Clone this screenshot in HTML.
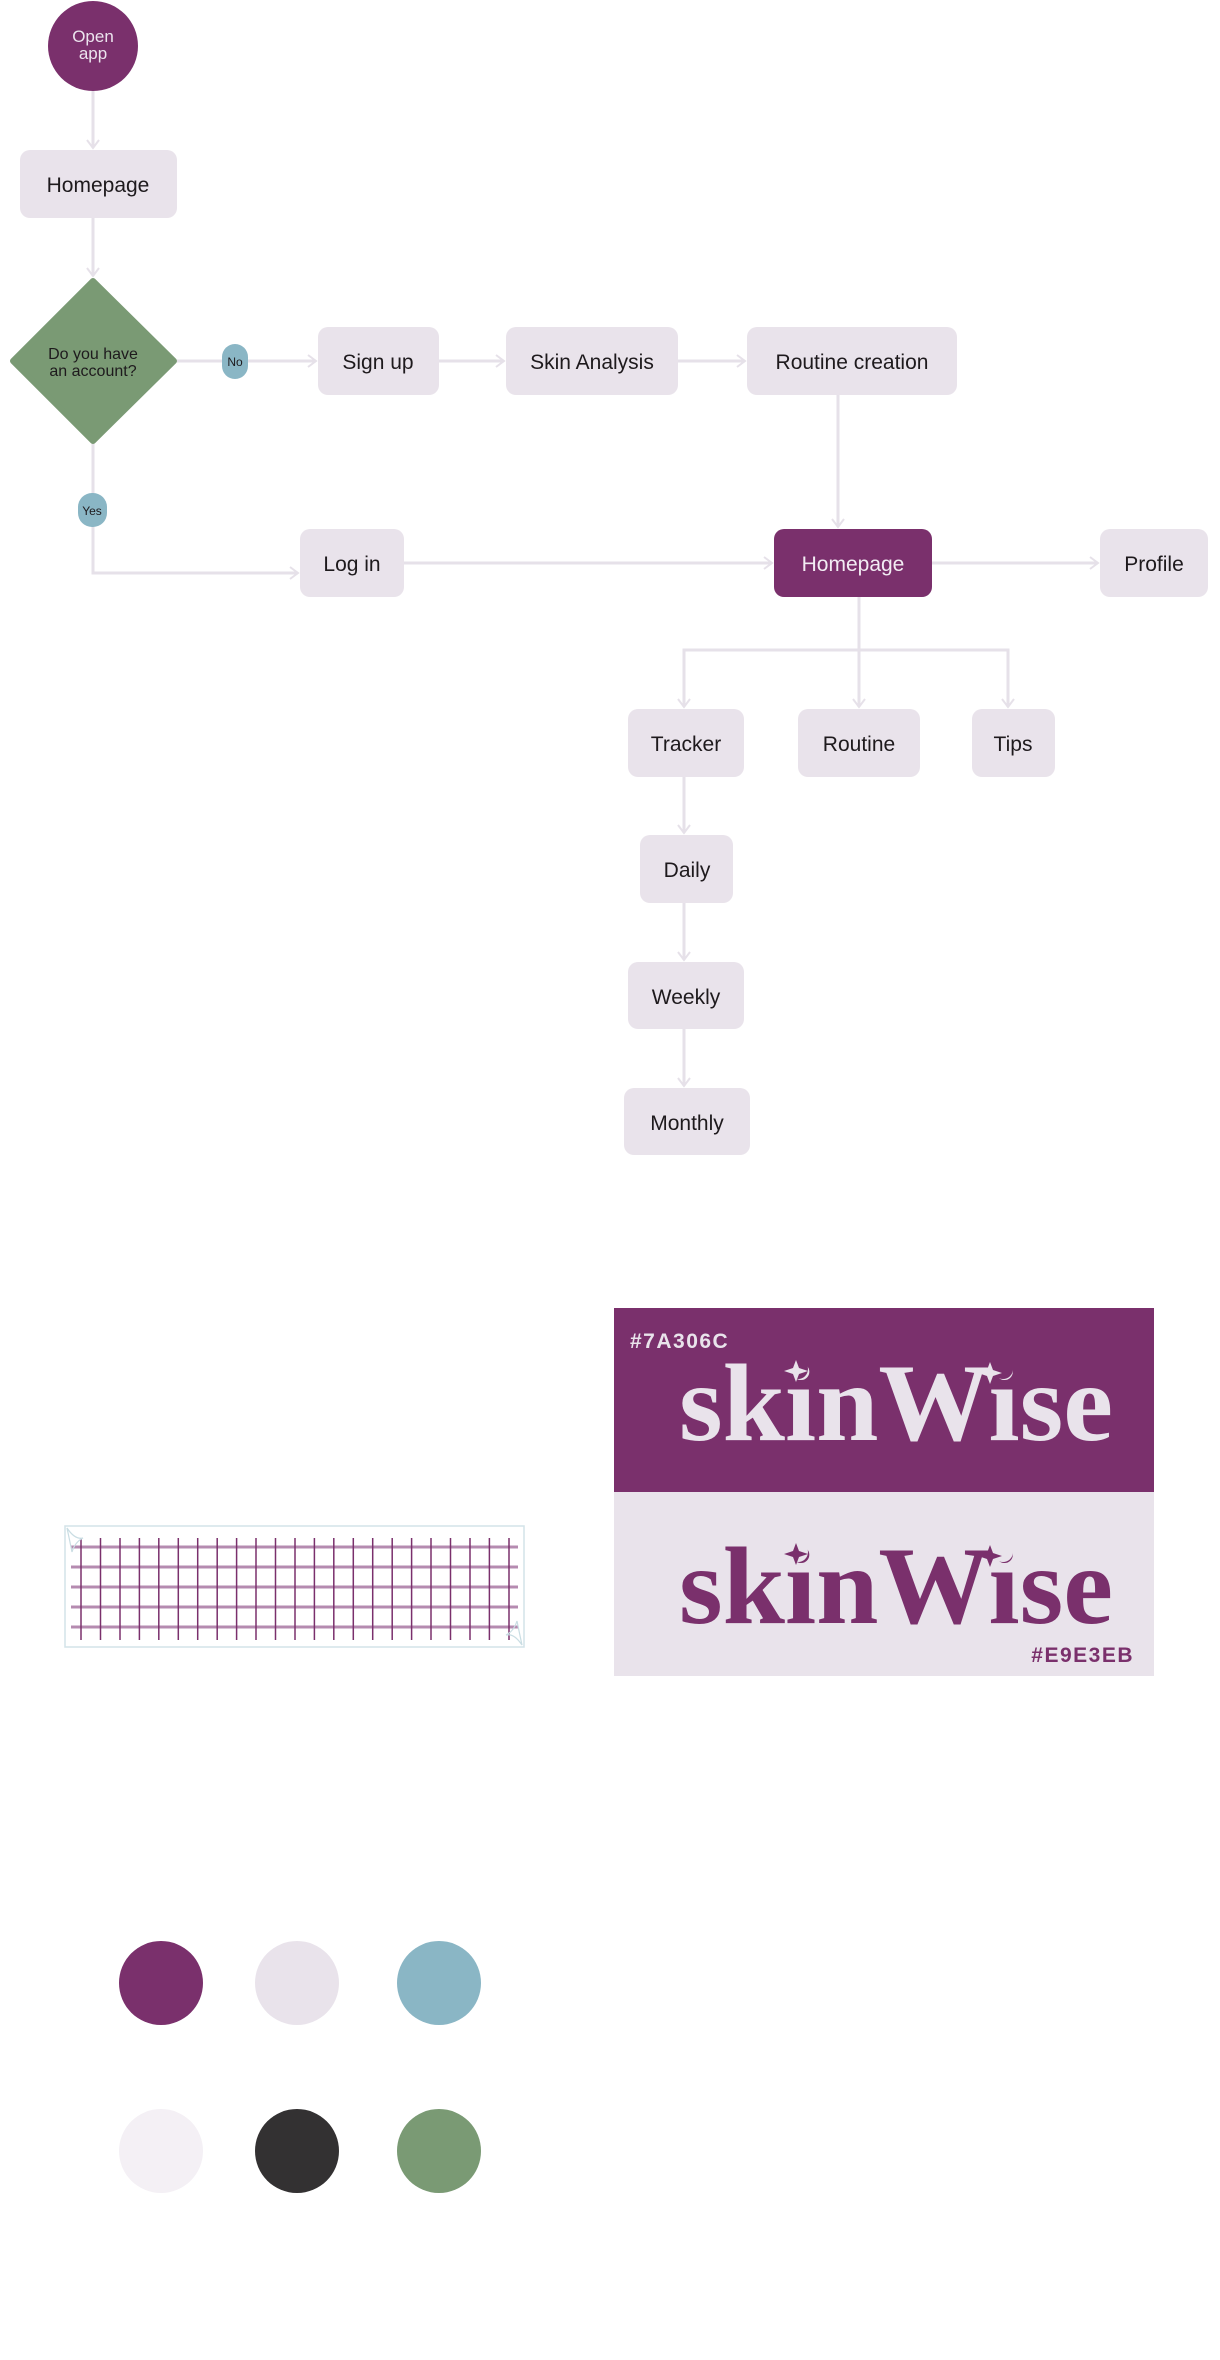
<!DOCTYPE html>
<html><head><meta charset="utf-8"><style>
html,body{margin:0;padding:0;background:#fff;}
svg{display:block;}
.s{font-family:"Liberation Sans",sans-serif;}
.sf{font-family:"Liberation Serif",serif;}
</style></head><body>
<svg width="1220" height="2360" viewBox="0 0 1220 2360" xmlns="http://www.w3.org/2000/svg">
<defs>
<marker id="a" markerWidth="14" markerHeight="14" refX="10" refY="7" orient="auto" markerUnits="userSpaceOnUse">
<path d="M2,1 L10,7 L2,13" fill="none" stroke="#e6e1e9" stroke-width="2"/>
</marker>
</defs>
<g stroke="#e6e1e9" stroke-width="3" fill="none">
<line x1="93" y1="91" x2="93" y2="148" marker-end="url(#a)"/>
<line x1="93" y1="218" x2="93" y2="276" marker-end="url(#a)"/>
<line x1="177" y1="361" x2="316" y2="361" marker-end="url(#a)"/>
<line x1="439" y1="361" x2="504" y2="361" marker-end="url(#a)"/>
<line x1="678" y1="361" x2="745" y2="361" marker-end="url(#a)"/>
<line x1="838" y1="395" x2="838" y2="527" marker-end="url(#a)"/>
<polyline points="93,443 93,573 298,573" marker-end="url(#a)"/>
<line x1="404" y1="563" x2="772" y2="563" marker-end="url(#a)"/>
<line x1="932" y1="563" x2="1098" y2="563" marker-end="url(#a)"/>
<line x1="859" y1="597" x2="859" y2="707" marker-end="url(#a)"/>
<polyline points="684,707 684,650 1008,650 1008,707" marker-end="url(#a)"/>
<line x1="684" y1="650" x2="684" y2="707" marker-end="url(#a)"/>
<line x1="684" y1="777" x2="684" y2="833" marker-end="url(#a)"/>
<line x1="684" y1="903" x2="684" y2="960" marker-end="url(#a)"/>
<line x1="684" y1="1029" x2="684" y2="1086" marker-end="url(#a)"/>
</g>
<circle cx="93" cy="46" r="45" fill="#7a306c"/>
<g class="s">
<text x="93" y="42" fill="#ece4ee" font-size="17" text-anchor="middle">Open</text>
<text x="93" y="59" fill="#ece4ee" font-size="17" text-anchor="middle">app</text>
</g>
<g fill="#e9e3eb">
<rect x="20" y="150" width="157" height="68" rx="10"/>
<rect x="318" y="327" width="121" height="68" rx="10"/>
<rect x="506" y="327" width="172" height="68" rx="10"/>
<rect x="747" y="327" width="210" height="68" rx="10"/>
<rect x="300" y="529" width="104" height="68" rx="10"/>
<rect x="1100" y="529" width="108" height="68" rx="10"/>
<rect x="628" y="709" width="116" height="68" rx="10"/>
<rect x="798" y="709" width="122" height="68" rx="10"/>
<rect x="972" y="709" width="83" height="68" rx="10"/>
<rect x="640" y="835" width="93" height="68" rx="10"/>
<rect x="628" y="962" width="116" height="67" rx="10"/>
<rect x="624" y="1088" width="126" height="67" rx="10"/>
</g>
<rect x="774" y="529" width="158" height="68" rx="10" fill="#7a306c"/>
<path d="M93,281 L174,361 L93,441 L13,361 Z" fill="#7a9a74" stroke="#7a9a74" stroke-width="6" stroke-linejoin="round"/>
<rect x="222" y="344" width="26" height="35" rx="13" fill="#8ab6c5"/>
<rect x="78" y="493" width="29" height="34" rx="14" fill="#8ab6c5"/>
<g class="s" font-size="21" fill="#1e1a1d" text-anchor="middle">
<text x="98" y="192">Homepage</text>
<text x="378" y="369">Sign up</text>
<text x="592" y="369">Skin Analysis</text>
<text x="852" y="369">Routine creation</text>
<text x="352" y="571">Log in</text>
<text x="853" y="571" fill="#f2ecf3">Homepage</text>
<text x="1154" y="571">Profile</text>
<text x="686" y="751">Tracker</text>
<text x="859" y="751">Routine</text>
<text x="1013" y="751">Tips</text>
<text x="687" y="877">Daily</text>
<text x="686" y="1004">Weekly</text>
<text x="687" y="1130">Monthly</text>
</g>
<g class="s">
<text x="93" y="359" font-size="16" fill="#1e1a1d" text-anchor="middle">Do you have</text>
<text x="93" y="376" font-size="16" fill="#1e1a1d" text-anchor="middle">an account?</text>
<text x="235" y="366" font-size="12" fill="#1e1a1d" text-anchor="middle">No</text>
<text x="92" y="515" font-size="12" fill="#1e1a1d" text-anchor="middle">Yes</text>
</g>

<!-- grid -->
<rect x="65" y="1526" width="459" height="121" fill="#fff" stroke="#d3e3e8" stroke-width="1.5"/>
<g stroke="#b58bb0" stroke-width="3">
<line x1="71" y1="1547" x2="518" y2="1547"/><line x1="71" y1="1567" x2="518" y2="1567"/><line x1="71" y1="1587" x2="518" y2="1587"/><line x1="71" y1="1607" x2="518" y2="1607"/><line x1="71" y1="1627" x2="518" y2="1627"/>
</g>
<g stroke="#7a306c" stroke-width="1.5">
<line x1="81" y1="1538" x2="81" y2="1640"/><line x1="100.5" y1="1538" x2="100.5" y2="1640"/><line x1="120" y1="1538" x2="120" y2="1640"/><line x1="139.4" y1="1538" x2="139.4" y2="1640"/><line x1="158.8" y1="1538" x2="158.8" y2="1640"/><line x1="178.3" y1="1538" x2="178.3" y2="1640"/><line x1="197.7" y1="1538" x2="197.7" y2="1640"/><line x1="217.2" y1="1538" x2="217.2" y2="1640"/><line x1="236.6" y1="1538" x2="236.6" y2="1640"/><line x1="256" y1="1538" x2="256" y2="1640"/><line x1="275.5" y1="1538" x2="275.5" y2="1640"/><line x1="295" y1="1538" x2="295" y2="1640"/><line x1="314.4" y1="1538" x2="314.4" y2="1640"/><line x1="333.8" y1="1538" x2="333.8" y2="1640"/><line x1="353.3" y1="1538" x2="353.3" y2="1640"/><line x1="372.7" y1="1538" x2="372.7" y2="1640"/><line x1="392.2" y1="1538" x2="392.2" y2="1640"/><line x1="411.6" y1="1538" x2="411.6" y2="1640"/><line x1="431" y1="1538" x2="431" y2="1640"/><line x1="450.5" y1="1538" x2="450.5" y2="1640"/><line x1="470" y1="1538" x2="470" y2="1640"/><line x1="489.4" y1="1538" x2="489.4" y2="1640"/><line x1="509" y1="1538" x2="509" y2="1640"/>
</g>
<path d="M67,1528 Q75,1540 83,1538 Q75,1542 72,1552 Q70,1542 67,1528Z" fill="none" stroke="#c9dde3" stroke-width="1.2"/>
<path d="M522,1645 Q514,1633 506,1635 Q514,1631 517,1621 Q519,1631 522,1645Z" fill="none" stroke="#c9dde3" stroke-width="1.2"/>

<!-- logo card -->
<rect x="614" y="1308" width="540" height="184" fill="#7a306c"/>
<rect x="614" y="1492" width="540" height="184" fill="#e9e3eb"/>
<g class="s">
<text x="630" y="1348" font-size="21" font-weight="bold" fill="#e9e3eb" letter-spacing="1.5">#7A306C</text>
<text x="1134" y="1662" font-size="21" font-weight="bold" fill="#7a306c" letter-spacing="1.5" text-anchor="end">#E9E3EB</text>
</g>
<g class="sf">
<text x="896" y="1440" font-size="110" font-weight="bold" fill="#e9e3eb" text-anchor="middle" textLength="434" lengthAdjust="spacingAndGlyphs">skinWise</text>
<text x="896" y="1623" font-size="110" font-weight="bold" fill="#7a306c" text-anchor="middle" textLength="434" lengthAdjust="spacingAndGlyphs">skinWise</text>
</g>
<circle cx="798" cy="1369" r="10" fill="#7a306c"/>
<circle cx="1003" cy="1369" r="10" fill="#7a306c"/>
<circle cx="798" cy="1552" r="10" fill="#e9e3eb"/>
<circle cx="1003" cy="1552" r="10" fill="#e9e3eb"/>
<path d="M796,1360 l3,8 l9,3 l-9,3 l-3,8 l-3,-8 l-9,-3 l9,-3z" fill="#e9e3eb"/>
<path d="M990,1362 l3,8 l9,3 l-9,3 l-3,8 l-3,-8 l-9,-3 l9,-3z" fill="#e9e3eb"/>
<path d="M796,1543 l3,8 l9,3 l-9,3 l-3,8 l-3,-8 l-9,-3 l9,-3z" fill="#7a306c"/>
<path d="M990,1545 l3,8 l9,3 l-9,3 l-3,8 l-3,-8 l-9,-3 l9,-3z" fill="#7a306c"/>

<!-- palette -->
<circle cx="161" cy="1983" r="42" fill="#7a306c"/>
<circle cx="297" cy="1983" r="42" fill="#e9e3eb"/>
<circle cx="439" cy="1983" r="42" fill="#8ab6c5"/>
<circle cx="161" cy="2151" r="42" fill="#f4f0f5"/>
<circle cx="297" cy="2151" r="42" fill="#333132"/>
<circle cx="439" cy="2151" r="42" fill="#7a9a74"/>
</svg>
</body></html>
